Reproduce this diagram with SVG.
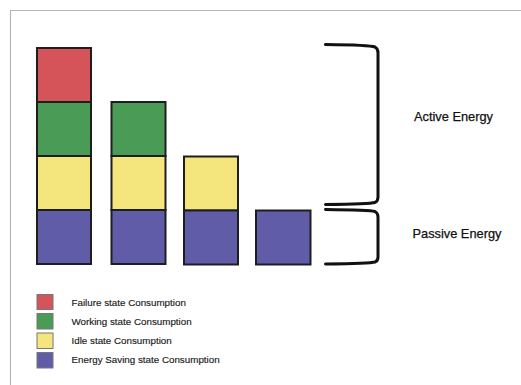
<svg xmlns="http://www.w3.org/2000/svg" width="521" height="385" viewBox="0 0 521 385">
<style>
.bar{stroke:#1e1e1e;stroke-width:2}
.leg{stroke:#777;stroke-width:1}
.r{fill:#d4545a}.g{fill:#4a9b55}.y{fill:#f4e57d}.p{fill:#615ca8}
.brace{fill:none;stroke:#111;stroke-width:3;stroke-linecap:round;stroke-linejoin:round}
.lbl{font-family:"Liberation Sans",Arial,sans-serif;font-size:12.8px;fill:#111;stroke:#111;stroke-width:0.25}
.lt{font-family:"Liberation Sans",Arial,sans-serif;font-size:9.8px;fill:#1a1a1a;stroke:#1a1a1a;stroke-width:0.15}
</style>
<rect width="521" height="385" fill="#fff"/>
<path d="M10.5 385 V10.5 H521" fill="none" stroke="#b5b5b5" stroke-width="1.2"/>
<g id="bar1">
<rect class="bar r" x="37" y="48" width="54" height="54"/>
<rect class="bar g" x="37" y="102" width="54" height="54"/>
<rect class="bar y" x="37" y="156" width="54" height="54"/>
<rect class="bar p" x="37" y="210" width="54" height="54"/>
</g>
<g id="bar2">
<rect class="bar g" x="111.5" y="102" width="54" height="54"/>
<rect class="bar y" x="111.5" y="156" width="54" height="54"/>
<rect class="bar p" x="111.5" y="210" width="54" height="54"/>
</g>
<g id="bar3">
<rect class="bar y" x="184" y="156.5" width="54" height="54"/>
<rect class="bar p" x="184" y="210.5" width="54" height="54"/>
</g>
<g id="bar4">
<rect class="bar p" x="256" y="210.5" width="54.5" height="54"/>
</g>
<g id="connectors">
<path class="brace" d="M325.5 44.5 Q370 45 375 47 Q378 48.5 378 53 V197 Q378 201 375 202.5 Q370 204 325.5 204.5"/>
<path class="brace" d="M325.5 209.5 Q370 210 375 211.5 Q378 213 378 217 V257 Q378 261 375 262 Q370 263.5 325.5 264"/>
</g>
<g id="active-energy"><text class="lbl" x="414" y="121">Active Energy</text></g>
<g id="passive-energy"><text class="lbl" x="412.5" y="237.5">Passive Energy</text></g>
<g id="legend">
<rect class="leg r" x="37" y="294.5" width="16" height="15"/>
<rect class="leg g" x="37" y="313.5" width="16" height="15.5"/>
<rect class="leg y" x="37" y="333" width="16" height="15.5"/>
<rect class="leg p" x="37" y="352.5" width="16" height="15.5"/>
<text class="lt" x="71.5" y="305.5">Failure state Consumption</text>
<text class="lt" x="71.5" y="325">Working state Consumption</text>
<text class="lt" x="71.5" y="343.5">Idle state Consumption</text>
<text class="lt" x="71.5" y="362.5">Energy Saving state Consumption</text>
</g>
</svg>
